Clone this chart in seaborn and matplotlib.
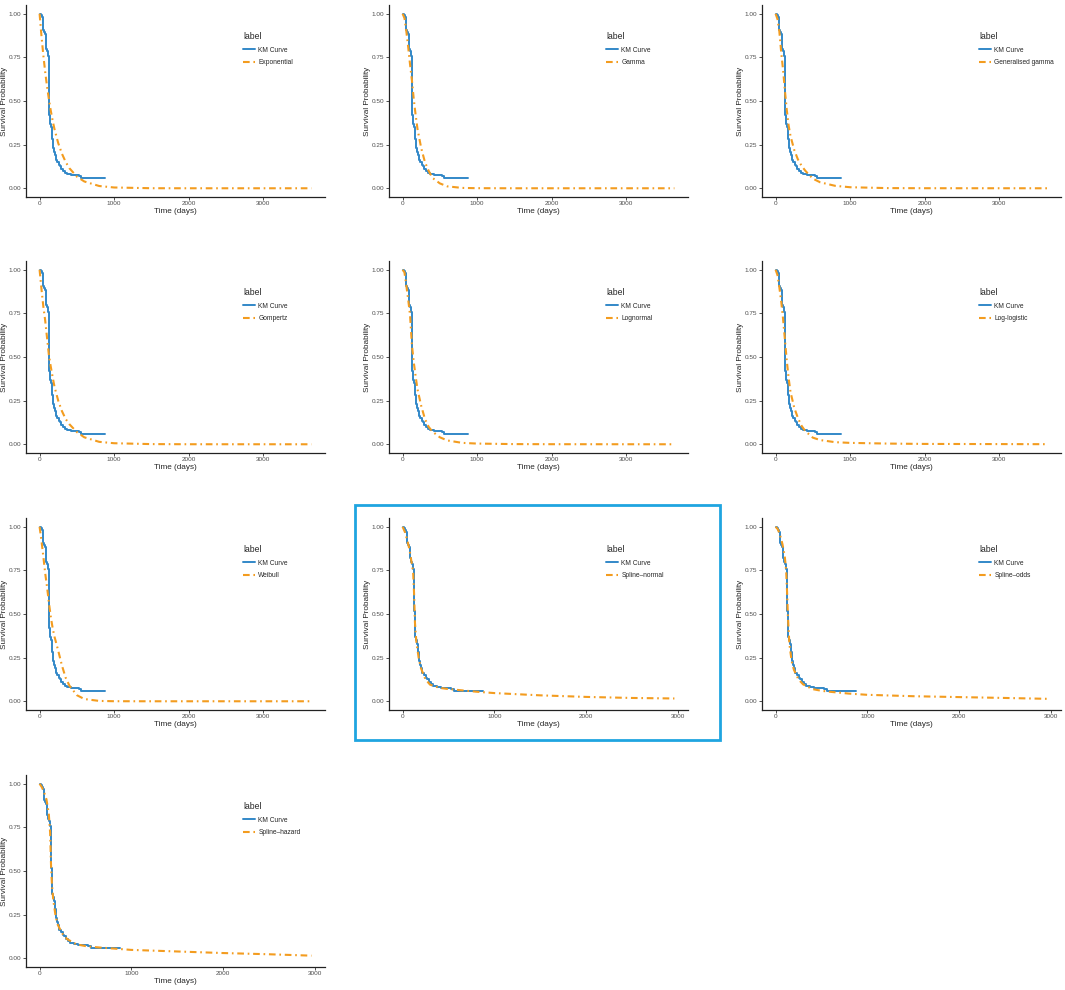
import matplotlib
matplotlib.use("Agg")
import numpy as np
import pandas as pd
import matplotlib.pyplot as plt
import seaborn as sns
from matplotlib.patches import Rectangle

# Kaplan-Meier steps (time, survival)
km_time = [0, 18, 30, 40, 45, 60, 75, 85, 92, 105, 115, 122, 126, 130, 135, 150, 160,
           170, 178, 190, 205, 215, 235, 255, 270, 290, 310, 335, 370, 420, 480, 530, 560, 875]
km_surv = [1.0, 0.99, 0.98, 0.97, 0.905, 0.895, 0.885, 0.82, 0.80, 0.785, 0.76, 0.65, 0.52,
           0.42, 0.37, 0.35, 0.33, 0.28, 0.23, 0.21, 0.19, 0.16, 0.15, 0.135, 0.125, 0.11,
           0.10, 0.09, 0.082, 0.078, 0.074, 0.07, 0.06, 0.06]

# parametric fits
t_param = [0, 25, 50, 75, 100, 125, 150, 175, 200, 250, 300, 350, 400, 500, 600, 800,
           1000, 1500, 2000, 3650]
s_exponential = [1.0, 0.874, 0.763, 0.667, 0.583, 0.509, 0.445, 0.388, 0.339, 0.259, 0.198,
                 0.151, 0.115, 0.067, 0.039, 0.013, 0.0045, 0.0003, 0.0, 0.0]
s_gamma = [1.0, 0.975, 0.90, 0.81, 0.71, 0.62, 0.51, 0.42, 0.34, 0.23, 0.15, 0.10, 0.06,
           0.028, 0.011, 0.002, 0.0005, 0.0, 0.0, 0.0]
s_gengamma = [1.0, 0.97, 0.90, 0.78, 0.68, 0.56, 0.45, 0.36, 0.30, 0.22, 0.165, 0.128, 0.10,
              0.055, 0.034, 0.014, 0.006, 0.001, 0.0003, 0.0]
s_gompertz = [1.0, 0.89, 0.79, 0.71, 0.61, 0.51, 0.445, 0.385, 0.33, 0.25, 0.19, 0.145, 0.115,
              0.07, 0.04, 0.014, 0.006, 0.001, 0.0002, 0.0]
s_lognormal = [1.0, 0.985, 0.91, 0.83, 0.74, 0.57, 0.47, 0.39, 0.315, 0.22, 0.145, 0.10, 0.073,
               0.04, 0.022, 0.008, 0.004, 0.001, 0.0004, 0.0]
s_loglogistic = [1.0, 0.97, 0.90, 0.82, 0.72, 0.60, 0.48, 0.38, 0.30, 0.21, 0.15, 0.105, 0.075,
                 0.038, 0.024, 0.012, 0.008, 0.004, 0.002, 0.0005]
s_weibull = [1.0, 0.92, 0.83, 0.735, 0.655, 0.565, 0.485, 0.42, 0.37, 0.29, 0.205, 0.135, 0.09,
             0.035, 0.013, 0.002, 0.0003, 0.0, 0.0, 0.0]

# spline fits
t_spline = [0, 25, 50, 75, 100, 115, 125, 135, 150, 175, 200, 250, 300, 400, 500, 600, 800,
            1000, 1500, 2000, 2500, 2965]
s_spline_normal = [1.0, 0.97, 0.925, 0.87, 0.79, 0.74, 0.62, 0.45, 0.34, 0.25, 0.19, 0.125,
                   0.095, 0.077, 0.07, 0.065, 0.055, 0.047, 0.034, 0.025, 0.019, 0.016]
s_spline_odds = [1.0, 0.985, 0.95, 0.90, 0.83, 0.75, 0.63, 0.48, 0.33, 0.23, 0.18, 0.125,
                 0.097, 0.07, 0.06, 0.054, 0.044, 0.037, 0.029, 0.024, 0.019, 0.014]
s_spline_hazard = [1.0, 0.98, 0.95, 0.91, 0.83, 0.72, 0.53, 0.42, 0.33, 0.24, 0.19, 0.14,
                   0.11, 0.08, 0.07, 0.064, 0.056, 0.048, 0.039, 0.03, 0.023, 0.015]

models = [
    ("Exponential", t_param, s_exponential),
    ("Gamma", t_param, s_gamma),
    ("Generalised gamma", t_param, s_gengamma),
    ("Gompertz", t_param, s_gompertz),
    ("Lognormal", t_param, s_lognormal),
    ("Log-logistic", t_param, s_loglogistic),
    ("Weibull", t_param, s_weibull),
    ("Spline\u2013normal", t_spline, s_spline_normal),
    ("Spline\u2013odds", t_spline, s_spline_odds),
    ("Spline\u2013hazard", t_spline, s_spline_hazard),
]

sns.set_style("ticks")
plt.rcParams['font.family'] = ['Liberation Sans', 'DejaVu Sans']

blue = "#3288C8"
orange = "#F39C1F"
W, H = 1065, 990
col_left = [26, 389, 762]
row_top = [5, 261, 518, 775]
aw, ah = 299, 192

fig = plt.figure(figsize=(W / 100, H / 100), dpi=100)

for i, (name, tt, ss) in enumerate(models):
    r, c = divmod(i, 3)
    ax = fig.add_axes([col_left[c] / W, 1 - (row_top[r] + ah) / H, aw / W, ah / H])
    sns.lineplot(x=km_time, y=km_surv, ax=ax, color=blue, lw=1.4, drawstyle="steps-post",
                 estimator=None, sort=False, label="KM Curve")
    sns.lineplot(x=tt, y=ss, ax=ax, color=orange, lw=1.5, linestyle=(0, (3.2, 1.8, 0.8, 1.8)),
                 estimator=None, sort=False, label=name)
    tmax = tt[-1]
    ax.set_xlim(-0.05 * tmax, 1.05 * tmax)
    ax.set_ylim(-0.05, 1.05)
    ax.set_xticks([0, 1000, 2000, 3000])
    ax.set_yticks([0, 0.25, 0.5, 0.75, 1.0])
    ax.set_yticklabels(["0.00", "0.25", "0.50", "0.75", "1.00"])
    ax.set_xlabel("Time (days)", fontsize=5.9, labelpad=1)
    ax.set_ylabel("Survival Probability", fontsize=5.9, labelpad=1.0)
    ax.tick_params(length=2.0, width=0.6, color="#333333", labelcolor="#4D4D4D",
                   labelsize=4.6, pad=1.2)
    sns.despine(ax=ax)
    for sp in ["left", "bottom"]:
        ax.spines[sp].set_linewidth(0.9)
        ax.spines[sp].set_color("#222222")
    leg = ax.legend(title="label", loc="upper left", bbox_to_anchor=(0.715, 0.875),
                    frameon=False, fontsize=4.8, title_fontsize=6.2, handlelength=1.8,
                    handletextpad=0.5, labelspacing=0.8, borderpad=0, alignment="left")

fig.add_artist(Rectangle((355 / W, 1 - 740 / H), 365 / W, 235 / H, transform=fig.transFigure,
                         fill=False, edgecolor="#1FA5E0", lw=2))

fig.savefig("out.png", dpi=100)
